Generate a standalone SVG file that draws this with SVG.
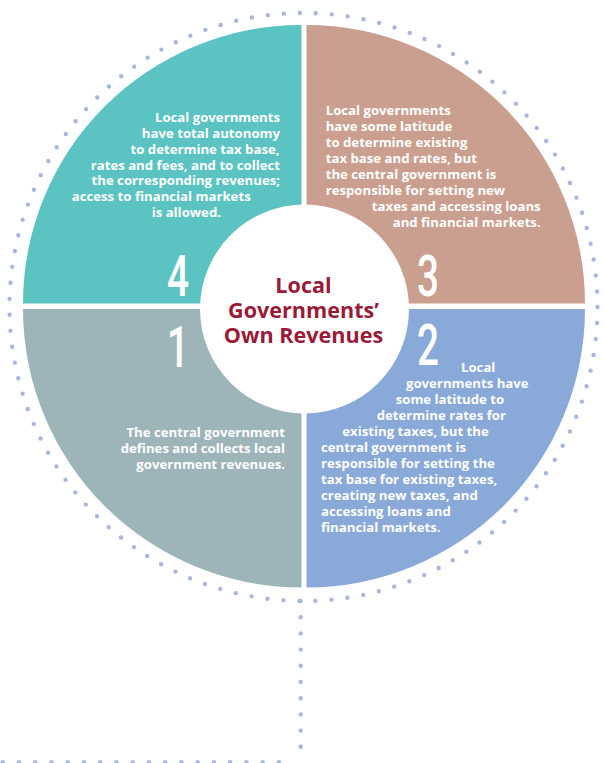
<svg xmlns="http://www.w3.org/2000/svg" width="603" height="763" viewBox="0 0 603 763">
<style>
.t{font-family:"Open Sans","Liberation Sans",sans-serif;font-weight:700;font-size:13.2px;fill:#ffffff}
.n{font-family:Roboto,"Liberation Sans",sans-serif;font-weight:500;font-size:57px;fill:#ffffff;text-anchor:middle}
.ttl{font-family:"Open Sans","Liberation Sans",sans-serif;font-weight:700;font-size:21.6px;fill:#9a1a38;text-anchor:middle}
.dots{fill:none;stroke:#a8b6e0;stroke-width:4.4;stroke-linecap:round}
</style>
<rect width="603" height="763" fill="#ffffff"/>
<g id="connectors">
<circle class="dots" cx="303.5" cy="307" r="294" stroke-dasharray="0 16.06"/>
<path class="dots" d="M300.7,601 L300.7,763" stroke-dasharray="0 16.2"/>
<path class="dots" d="M2.7,762.3 L279,762.3" stroke-dasharray="0 16.25"/>
</g>
<g id="q4">
<path d="M301.5,303.5 L23,303.5 A278.5,278.5 0 0 1 301.5,25 Z" fill="#5bc4c3"/>
<text class="t" text-anchor="end"><tspan x="280" y="121.7">Local governments</tspan><tspan x="280" y="137.6">have total autonomy</tspan><tspan x="279.5" y="153.5">to determine tax base,</tspan><tspan x="280" y="169.5">rates and fees, and to collect</tspan><tspan x="280" y="185.4">the corresponding revenues;</tspan><tspan x="250.7" y="201.3">access to financial markets</tspan><tspan x="221" y="217.2">is allowed.</tspan></text>
<text class="n" transform="translate(178,296) scale(0.68,1)">4</text>
</g>
<g id="q3">
<path d="M306.5,303.5 L306.5,25 A278.5,278.5 0 0 1 585,303.5 Z" fill="#cb9f8f"/>
<text class="t"><tspan x="325.7" y="115">Local governments</tspan><tspan x="325.7" y="131">have some latitude</tspan><tspan x="325.7" y="147">to determine existing</tspan><tspan x="325.7" y="162.8">tax base and rates, but</tspan><tspan x="325.7" y="178.8">the central government is</tspan><tspan x="325.7" y="194.7">responsible for setting new</tspan></text>
<text class="t" text-anchor="end"><tspan x="540.7" y="210.7">taxes and accessing loans</tspan><tspan x="540.7" y="226.6">and financial markets.</tspan></text>
<text class="n" transform="translate(428,296) scale(0.68,1)">3</text>
</g>
<g id="q1">
<path d="M301.5,309 L301.5,587.5 A278.5,278.5 0 0 1 23,309 Z" fill="#9db5b9"/>
<text class="t" text-anchor="end"><tspan x="285" y="436.7">The central government</tspan><tspan x="285" y="452.7">defines and collects local</tspan><tspan x="285" y="468.5">government revenues.</tspan></text>
<text class="n" transform="translate(178,367) scale(0.68,1)">1</text>
</g>
<g id="q2">
<path d="M306.5,309 L585,309 A278.5,278.5 0 0 1 306.5,587.5 Z" fill="#89a9d9"/>
<text class="t"><tspan x="461" y="371.7">Local</tspan><tspan x="406" y="387.7">governments have</tspan><tspan x="395.7" y="403.7">some latitude to</tspan><tspan x="376.7" y="419.7">determine rates for</tspan><tspan x="342.3" y="435.7">existing taxes, but the</tspan><tspan x="321" y="451.7">central government is</tspan><tspan x="321" y="467.7">responsible for setting the</tspan><tspan x="321" y="483.7">tax base for existing taxes,</tspan><tspan x="321" y="499.7">creating new taxes, and</tspan><tspan x="321" y="515.7">accessing loans and</tspan><tspan x="321" y="531.7">financial markets.</tspan></text>
<text class="n" transform="translate(428,365) scale(0.68,1)">2</text>
</g>
<g id="center">
<circle cx="304.5" cy="309" r="104.5" fill="#ffffff"/>
<text class="ttl"><tspan x="303.5" y="292.7">Local</tspan><tspan x="303.5" y="317.5">Governments’</tspan><tspan x="303.5" y="343">Own Revenues</tspan></text>
</g>
</svg>
